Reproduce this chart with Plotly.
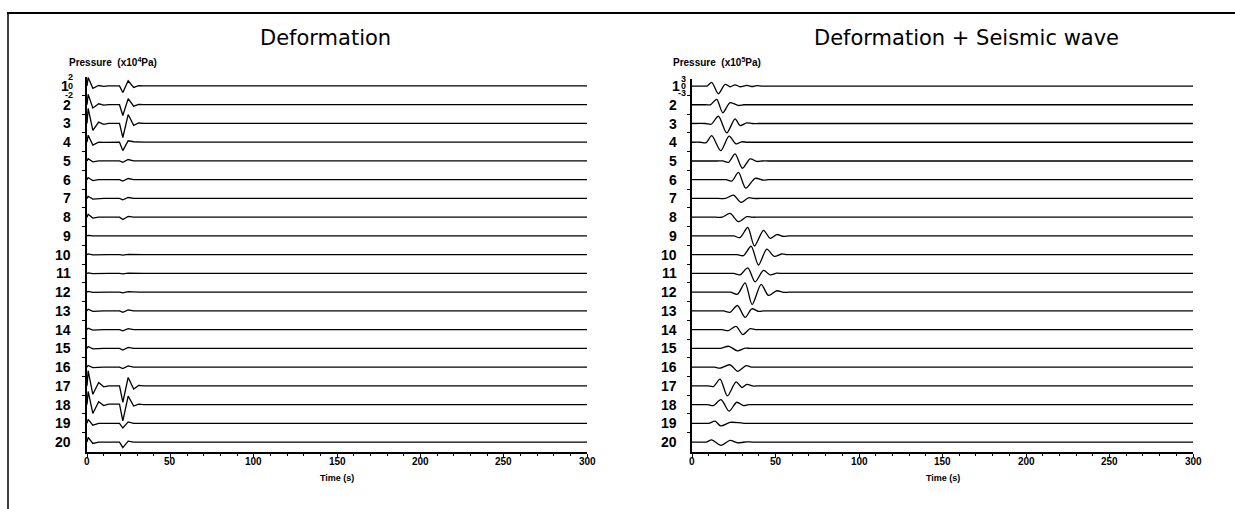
import plotly.graph_objects as go

W, H = 1235, 509

# ---------------- data ----------------
trace_names = [str(i) for i in range(1, 21)]

# Left panel ("Deformation"), pressure in x10^4 Pa, shared time knots (s)
left_t = [0, 0.7, 3.5, 7, 10, 13, 19.5, 21.5, 24.7, 28, 31, 34, 300]
left_a = [
    [0, 1.8, -0.5, 0.1, -0.1, 0, 0, -1.4, 1.1, -0.3, 0.05, 0, 0],
    [0, 2.2, -0.7, 0.2, -0.1, 0, 0, -2.3, 1.3, -0.3, 0.05, 0, 0],
    [0, 3.2, -1.5, 0.3, -0.2, 0, 0, -3.0, 1.9, -0.4, 0.1, 0, 0],
    [0, 1.5, -0.6, 0, -0.05, 0, 0, -1.8, 0.3, 0.1, 0, 0, 0],
    [0, 0.5, -0.2, 0, 0, 0, 0, -0.3, 0.3, 0, 0, 0, 0],
    [0, 0.45, -0.2, 0, 0, 0, 0, -0.3, 0.25, 0, 0, 0, 0],
    [0, 0.45, -0.15, 0, 0, 0, 0, -0.3, 0.2, 0, 0, 0, 0],
    [0, 0.6, -0.2, 0, 0, 0, 0, -0.5, 0.15, 0, 0, 0, 0],
    [0, 0.1, 0, 0, 0, 0, 0, -0.05, 0.05, 0, 0, 0, 0],
    [0, 0.15, -0.05, 0, 0, 0, 0, -0.1, 0.05, 0, 0, 0, 0],
    [0, 0.1, -0.05, 0, 0, 0, 0, -0.1, 0.05, 0, 0, 0, 0],
    [0, 0.15, -0.05, 0, 0, 0, 0, -0.15, 0.1, 0, 0, 0, 0],
    [0, 0.35, -0.1, 0, 0, 0, 0, -0.3, 0.2, 0, 0, 0, 0],
    [0, 0.3, -0.1, 0, 0, 0, 0, -0.25, 0.2, 0, 0, 0, 0],
    [0, 0.4, -0.1, 0, 0, 0, 0, -0.35, 0.2, 0, 0, 0, 0],
    [0, 0.35, -0.1, 0, 0, 0, 0, -0.3, 0.25, 0, 0, 0, 0],
    [0, 3.2, -1.8, 0.7, -0.2, 0, 0, -3.5, 1.8, -0.7, 0.1, 0, 0],
    [0, 2.8, -1.9, 0.6, -0.2, 0.1, 0.1, -3.5, 1.8, -0.3, 0.1, 0, 0],
    [0, 0.85, -0.4, 0, 0, 0, 0, -1.0, 0.3, 0, 0, 0, 0],
    [0, 1.0, -0.3, 0, 0, 0, 0, -1.2, 0.2, 0, 0, 0, 0],
]

# Right panel ("Deformation + Seismic wave"), pressure in x10^5 Pa
right_t = [
    [0, 6, 9, 11.8, 15.8, 19.8, 22.8, 25.8, 28.8, 32.8, 35.8, 38.8, 42, 46, 300],
    [0, 8, 11, 14.8, 18.4, 22.8, 27.8, 31, 35, 300],
    [0, 8, 11.5, 15.8, 20.8, 25.8, 28.8, 32.8, 36, 40, 300],
    [0, 5, 8.5, 11.8, 17.2, 22.2, 26.4, 29.8, 33, 37, 300],
    [0, 15, 18.5, 21.8, 25.8, 30.2, 34.8, 38.8, 42, 46, 300],
    [0, 17, 20.5, 23.8, 27.8, 32.2, 37.8, 42.8, 46, 50, 300],
    [0, 16, 20, 24.8, 29.4, 33.8, 37, 41, 300],
    [0, 14, 18, 22.8, 27.8, 32.8, 36, 40, 300],
    [0, 21, 25, 28.8, 33.4, 37.4, 42.8, 46.8, 50.8, 54.8, 58, 62, 300],
    [0, 23, 27, 30.8, 35.4, 39.8, 44.8, 49.2, 53.8, 57, 61, 300],
    [0, 21, 25, 28.8, 33.4, 37.8, 42.8, 46.8, 50.8, 54, 58, 300],
    [0, 19, 23, 27.2, 31.8, 36, 41.4, 45.8, 50.8, 54.8, 58, 62, 300],
    [0, 15, 19, 22.8, 27.2, 31.8, 35.8, 39.8, 43, 47, 300],
    [0, 14, 18, 21.8, 26.4, 30.4, 34.8, 38, 42, 300],
    [0, 13, 17, 22.2, 27.2, 31.8, 35, 39, 300],
    [0, 10, 13.5, 16.8, 22.8, 27.4, 32.4, 35.5, 39, 300],
    [0, 6, 9.5, 12.8, 16.8, 21.2, 26.4, 29.8, 32.8, 36.8, 40, 44, 300],
    [0, 6, 9.5, 12.8, 17.4, 22.2, 26.8, 30.8, 34, 38, 300],
    [0, 6, 10, 13.8, 17.2, 22.8, 27.8, 31, 35, 300],
    [0, 5, 8.5, 11.8, 17.4, 22.8, 27.2, 32.8, 36, 40, 300],
]
right_a = [
    [0, 0, 0, 1.6, -3.3, 0.7, -0.3, 0.5, -0.3, 0.3, -0.2, 0.2, 0, 0, 0],
    [0, 0, 0, 2.3, -3.4, 0.9, -0.3, 0, 0, 0],
    [0, 0, -0.3, 3.1, -4.0, 2.0, -0.9, 0.3, 0, 0, 0],
    [0, 0, -0.2, 2.8, -3.6, 2.6, -0.7, 0.2, 0, 0, 0],
    [0, 0, 0, -0.6, 3.0, -3.1, 0.9, -0.2, 0, 0, 0],
    [0, 0, 0, -0.6, 3.1, -3.6, 0.6, -0.2, 0, 0, 0],
    [0, 0, 0, 1.4, -1.7, 0.3, 0, 0, 0],
    [0, 0, 0, 1.6, -1.9, 0.2, 0, 0, 0],
    [0, 0, 0, -0.7, 3.6, -4.3, 2.4, -1.0, 0.6, -0.2, 0, 0, 0],
    [0, 0, 0, -0.4, 3.6, -4.4, 2.4, -0.7, 0.3, 0, 0, 0],
    [0, 0, 0, -0.6, 2.4, -3.6, 1.3, -0.6, 0.1, 0, 0, 0],
    [0, 0, 0, -0.9, 4.0, -5.3, 3.3, -1.4, 0.6, -0.1, 0, 0, 0],
    [0, 0, 0, -0.6, 2.3, -2.8, 0.9, -0.2, 0, 0, 0],
    [0, 0, 0, -0.4, 1.4, -2.1, 0.4, 0, 0, 0],
    [0, 0, 0, 0.9, -1.1, 0.1, 0, 0, 0],
    [0, 0, 0, -0.4, 1.0, -1.8, 0.6, 0, 0, 0],
    [0, 0, 0, -0.3, 2.9, -4.3, 1.7, -0.7, 0.6, -0.1, 0, 0, 0],
    [0, 0, 0, -0.4, 2.1, -2.8, 1.0, -0.4, 0, 0, 0],
    [0, 0, 0, 0.9, -1.1, 0.4, 0.3, 0, 0, 0],
    [0, 0, 0, 0.9, -1.4, 0.7, -0.3, 0.1, 0, 0, 0],
]

x_ticks = [0, 50, 100, 150, 200, 250, 300]
x_tick_text = ["0", "50", "100", "150", "200", "250", "300"]
panel_titles = ["Deformation", "Deformation + Seismic wave"]
pressure_labels = ["Pressure  (x10<sup>4</sup>Pa)", "Pressure  (x10<sup>5</sup>Pa)"]
scale_labels = [["2", "0", "-2"], ["3", "0", "-3"]]
scale_values = [[2, 0, -2], [3, 0, -3]]

# ---------------- layout constants ----------------
S_L, S_R = 4, 8           # vertical spacing between traces (data units)
TOP_L, TOP_R = 2, 3
def py(p):  # pixel y -> paper
    return 1 - p / H
def px(p):
    return p / W

fig = go.Figure()
n = len(trace_names)
for k in range(n):
    fig.add_trace(go.Scatter(
        x=left_t, y=[a - k * S_L for a in left_a[k]], mode="lines",
        line=dict(color="black", width=1.3), xaxis="x", yaxis="y",
        showlegend=False, hoverinfo="skip"))
    fig.add_trace(go.Scatter(
        x=right_t[k], y=[a - k * S_R for a in right_a[k]], mode="lines",
        line=dict(color="black", width=1.3, shape="spline", smoothing=0.8),
        xaxis="x2", yaxis="y2", showlegend=False, hoverinfo="skip"))

xcommon = dict(range=[0, 300], tickvals=x_ticks, ticks="outside", ticklen=4,
               tickwidth=1, tickcolor="black", showline=True, linecolor="black",
               linewidth=1.5, showgrid=False, zeroline=False, showticklabels=False,
               minor=dict(dtick=10, ticks="outside", ticklen=2, tickcolor="black", showgrid=False))

def ycommon(S, top):
    mids = [-(k + 0.5) * S for k in range(n - 1)]
    return dict(range=[-(n - 1) * S - 0.53 * S, top], tickvals=mids, ticks="outside",
                ticklen=3, tickcolor="black", showticklabels=False, showline=True,
                linecolor="black", linewidth=1.5, showgrid=False, zeroline=False)

y_bot = py(452)
fig.update_layout(
    width=W, height=H, margin=dict(l=0, r=0, t=0, b=0),
    paper_bgcolor="white", plot_bgcolor="white",
    xaxis=dict(domain=[px(87), px(587)], anchor="y", **xcommon),
    yaxis=dict(domain=[y_bot, py(76.6)], anchor="x", **ycommon(S_L, TOP_L)),
    xaxis2=dict(domain=[px(692), px(1193)], anchor="y2", **xcommon),
    yaxis2=dict(domain=[y_bot, py(79)], anchor="x2", **ycommon(S_R, TOP_R)),
)

ann = []
lab_font = dict(family="Liberation Sans, Arial", size=14, color="black")
small_font = dict(family="Liberation Sans, Arial", size=9, color="black")
tick_font = dict(family="Liberation Sans, Arial", size=10, color="black")
for p, (xref, yref, S, num_right, one_right, scale_right, xc, title_left) in enumerate([
        ("x", "y", S_L, 73, 71, 74.5, 337, 258),
        ("x2", "y2", S_R, 679, 682, 687.5, 942.5, 812)]):
    for k, name in enumerate(trace_names):
        ann.append(dict(x=px(one_right if k == 0 else num_right), xref="paper",
                        y=-k * S, yref=yref, text="<b>%s</b>" % name, showarrow=False,
                        xanchor="right", yanchor="middle", font=lab_font))
    for lab, v in zip(scale_labels[p], scale_values[p]):
        ann.append(dict(x=px(scale_right), xref="paper", y=v, yref=yref,
                        text="<b>%s</b>" % lab, showarrow=False, xanchor="right",
                        yanchor="middle", font=small_font))
    for tv, tt in zip(x_ticks, x_tick_text):
        ann.append(dict(x=tv, xref=xref, y=py(461), yref="paper", text="<b>%s</b>" % tt,
                        showarrow=False, xanchor="center", yanchor="middle", font=tick_font))
    ann.append(dict(x=px(xc), xref="paper", y=py(478), yref="paper",
                    text="<b>Time (s)</b>", showarrow=False, xanchor="center",
                    yanchor="middle", font=dict(family="Liberation Sans, Arial", size=9, color="black")))
    ann.append(dict(x=px(title_left), xref="paper", y=py(38), yref="paper",
                    text=panel_titles[p], showarrow=False, xanchor="left",
                    yanchor="middle", font=dict(family="DejaVu Sans, Verdana", size=21, color="black")))
    ann.append(dict(x=px(66.7 if p == 0 else 670.7), xref="paper", y=py(62), yref="paper",
                    text="<b>%s</b>" % pressure_labels[p], showarrow=False, xanchor="left",
                    yanchor="middle", font=dict(family="Liberation Sans, Arial", size=10, color="black")))

fig.update_layout(annotations=ann)

# frame lines (top and left edges of the figure box)
fig.add_shape(type="line", xref="paper", yref="paper", x0=px(7), x1=1, y0=py(13), y1=py(13),
              line=dict(color="black", width=2))
fig.add_shape(type="line", xref="paper", yref="paper", x0=px(8), x1=px(8), y0=py(13), y1=0,
              line=dict(color="black", width=1.5))

fig.write_html("out.html", config={"displayModeBar": False},
               post_script="document.body.style.margin='0px';document.body.style.overflow='hidden';")
